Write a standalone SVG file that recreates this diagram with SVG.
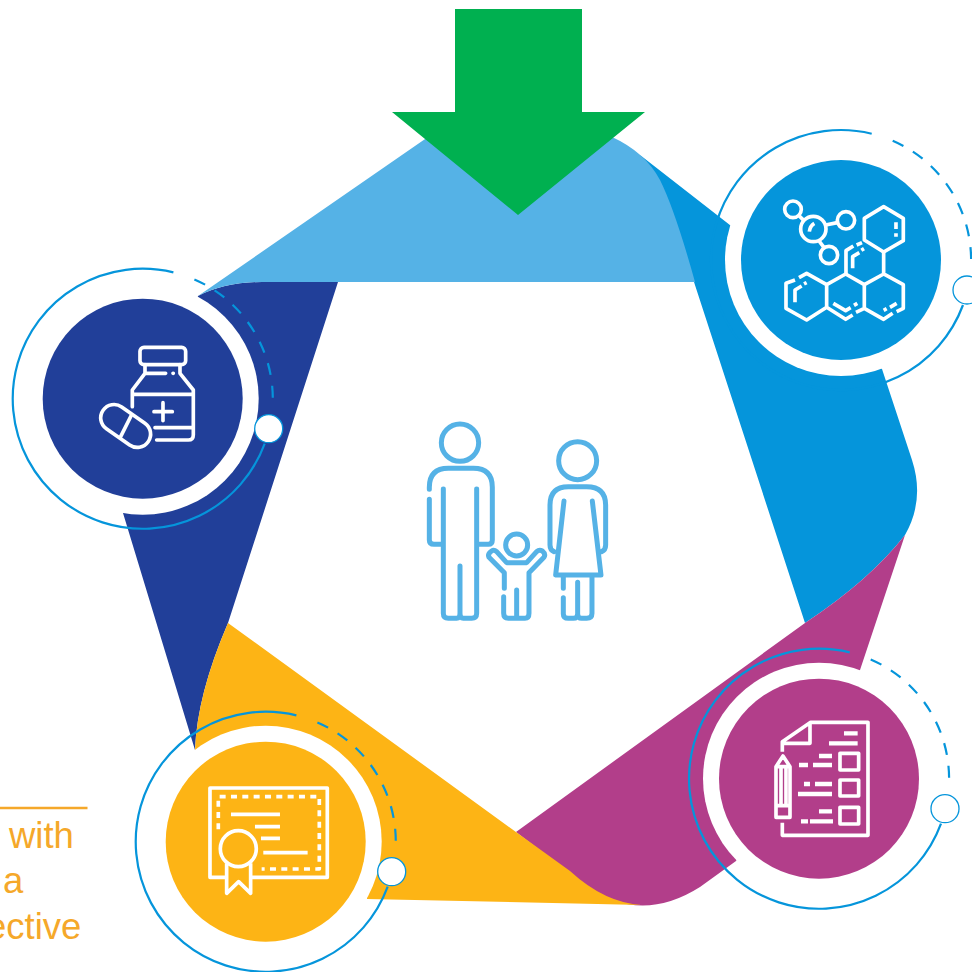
<svg xmlns="http://www.w3.org/2000/svg" width="972" height="972" viewBox="0 0 972 972">
<defs>
<style>
.ring{fill:#fff}
.solid{fill:none;stroke:#0595DB;stroke-width:2.200}
.dash{fill:none;stroke:#0595DB;stroke-width:2.200;stroke-dasharray:12 11}
.dot{fill:#fff;stroke:#0595DB;stroke-width:1.300}
.ico{fill:none;stroke:#fff;stroke-width:11;stroke-linejoin:round}
.fam{fill:none;stroke:#55B2E6;stroke-width:15;stroke-linecap:round;stroke-linejoin:round}
.lbl{font-family:"Liberation Sans",Arial,sans-serif;font-size:36.500px;fill:#F5A82A}
</style>
<g id="halo">
<circle class="ring" r="116"/>
<path class="solid" d="M122 45A130 130 0 1 1 30.7 -126.300"/>
<path class="dash" d="M51.700 -119.300A130 130 0 0 1 130 5"/>
<circle class="dot" cx="126" cy="30" r="14"/>
</g>
</defs>
<g id="connectors">
<path fill="#0595DB" d="M640 155L735 229L882 369L912 460Q925 500 905 535Q870 580 805 623L694 282Q672 200 640 155Z"/>
<path fill="#213F99" d="M338 282L228 623Q197 695 195 750L123 513L198 296Q225 282 262 282Z"/>
<path fill="#B23E8A" d="M905 535L860 670L736 861L700 887Q640 925 585 885L516 832L805 623Q870 580 905 535Z"/>
<path fill="#FDB415" d="M228 623L516 832L570 871Q605 903 642 905L367 899L360 800L195 750Q197 695 228 623Z"/>
<path fill="#55B2E6" d="M198 296L428 137L518 120L612 137Q645 152 660 180Q675 210 695 282H262Q225 282 198 296Z"/>
<polygon fill="#00B050" points="455,9 582,9 582,112 645,112 518,215 392,112 455,112"/>
</g>
<g id="node-molecule">
<use href="#halo" x="841" y="260"/>
<circle cx="841" cy="260" r="100" fill="#0595DB"/>
<g class="ico" transform="translate(700 120) scale(.3333)">
<circle cx="279" cy="268" r="25"/><circle cx="340" cy="327" r="38"/><circle cx="438" cy="301" r="26"/><circle cx="387" cy="405" r="26"/>
<path d="M298 288L312 302M377 315L412 308M358 364L372 382M328 335Q330 318 343 310"/>
<path d="M551 260L610 295V362L551 396L493 360V295Z"/>
<path d="M588 307V327M588 340V350M460 378L438 392V462M470 375L486 368M458 445V410L478 398M484 391L492 386"/>
<path d="M551 396V462M437 462L493 494L551 462L610 494V565L590 575M578 580L551 598L493 565L468 577M493 494V565"/>
<path d="M380 494L437 462M380 494V562M380 494L320 460L297 473M285 480L258 490V565L320 600L380 562L437 598L458 585"/>
<path d="M285 547V510L305 498M312 492L320 488M400 550L437 572L452 563M462 556L472 550M551 571L560 566M570 562L590 550"/>
</g>
</g>
<g id="node-medicine">
<use href="#halo" x="142.700" y="398.700"/>
<circle cx="142.700" cy="398.700" r="100" fill="#213F99"/>
<g class="ico" transform="translate(0 260) scale(.3333)" stroke-linecap="round">
<rect x="420" y="262" width="137" height="52" rx="12"/>
<path d="M435 314V340L397 390V440M540 314V340L580 390V525Q580 540 565 540H470M397 403H580M465 503H580M435 340H497M519 340H520M489 428V482M462 455H517"/>
<rect x="294.500" y="458" width="165" height="80" rx="40" transform="rotate(35 377 498)"/>
<path d="M393 468L362 530"/>
</g>
</g>
<g id="node-certificate">
<use href="#halo" x="265.700" y="841.700"/>
<circle cx="265.700" cy="841.700" r="100" fill="#FDB415"/>
<g class="ico" transform="translate(0 700) scale(.3333)">
<path d="M680 532H630V264H982V532H752"/>
<path d="M655 388V290H958V507H785" stroke-dasharray="18 16"/>
<path d="M693 343H840M765 380H840M783 415H840M790 458H923"/>
<circle cx="715" cy="446" r="54"/>
<path d="M680 490V580L716 545L752 580V490"/>
</g>
</g>
<g id="node-checklist">
<use href="#halo" x="819" y="778.700"/>
<circle cx="819" cy="778.700" r="100" fill="#B23E8A"/>
<g class="ico" transform="translate(680 640) scale(.3333)">
<path d="M307 335V305L392 247H564V586H307V548M307 310H390V250"/>
<path stroke-width="13" d="M492 280H533M447 310H533M417 348H456M357 375H384M399 375H456M372 432H390M405 432H456M354 462H456M417 514H456M363 544H384M390 544H459"/>
<rect x="480" y="340" width="56" height="50"/><rect x="480" y="420" width="56" height="48"/><rect x="480" y="502" width="56" height="50"/>
<path d="M288 380L309 348L330 380V532H288ZM288 380H330M303 380V497M318 380V497M288 497H330"/>
</g>
</g>
<g id="node-family" class="fam" transform="translate(410 410) scale(.3333)">
<circle cx="150" cy="98" r="56"/>
<path d="M58 238V232Q58 175 115 175H190Q247 175 247 232V390Q247 403 235 403H205M58 268V390Q58 403 72 403H100M100 237V610Q100 625 115 625H140Q150 625 150 610V468M200 237V610Q200 625 185 625H160Q150 625 150 610"/>
<circle cx="320" cy="405" r="33"/>
<path d="M283 535V488L237 442Q232 432 245 423Q252 418 260 425L290 458H350L380 425Q388 418 397 423Q408 432 402 442L357 488V610Q357 625 345 625H295Q281 625 281 610V560M320 540V625"/>
<circle cx="503" cy="152" r="57"/>
<path d="M432 425Q420 420 420 405V285Q420 230 475 230H530Q587 230 587 285V405Q587 420 575 425M462 273L437 495H573L547 273M460 495V535M460 563V612Q460 625 475 625H490Q503 625 503 612V517M546 495V610Q546 625 530 625H515Q503 625 503 612"/>
</g>
<g id="caption">
<line x1="0" y1="808" x2="87.500" y2="808" stroke="#F5A82A" stroke-width="2.500"/>
<text class="lbl" x="9" y="847.500">with</text>
<text class="lbl" x="3" y="892.500">a</text>
<text class="lbl" x="-14" y="938.500">ective</text>
</g>
</svg>
